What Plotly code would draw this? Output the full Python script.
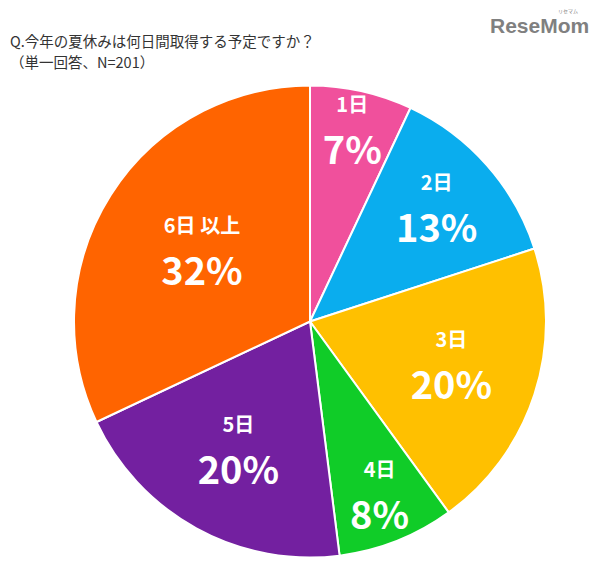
import plotly.graph_objects as go

categories = ["1日", "2日", "3日", "4日", "5日", "6日 以上"]
percent = [7, 13, 20, 8, 20, 32]
colors = ["#F0509C", "#0AADEE", "#FFC000", "#10CC28", "#7320A0", "#FF6400"]

title_line1 = "Q.今年の夏休みは何日間取得する予定ですか？"
title_line2 = "（単一回答、N=201）"

texts = [f"<span style='font-size:20px'><b>{c}</b></span><br><span style='font-size:38px'><b>{p}%</b></span>"
         for c, p in zip(categories, percent)]

# page body has an 8px margin, so figure coords are offset by 8px
OFF = 8
W, H = 605, 573
cx, cy, r = 310 - OFF, 321.5 - OFF, 236

fig = go.Figure(go.Pie(
    labels=categories,
    values=percent,
    text=texts,
    textinfo="text",
    textposition="inside",
    insidetextorientation="horizontal",
    sort=False,
    direction="clockwise",
    rotation=0,
    marker=dict(colors=colors, line=dict(color="white", width=2)),
    textfont=dict(family="Noto Sans CJK JP", color="white", size=40),
    hoverinfo="label+percent",
    domain=dict(x=[(cx - r) / W, (cx + r) / W], y=[(H - cy - r) / H, (H - cy + r) / H]),
    showlegend=False,
))

fig.update_layout(
    width=W, height=H,
    margin=dict(l=0, r=0, t=0, b=0),
    paper_bgcolor="white",
    uniformtext=dict(minsize=40, mode="show"),
    font=dict(family="Noto Sans CJK JP"),
    annotations=[
        dict(text=title_line1, x=0, y=1 - (40 - OFF) / H, xref="paper", yref="paper",
             xanchor="left", yanchor="middle", showarrow=False,
             font=dict(size=14.5, color="#333333", family="Noto Sans CJK JP")),
        dict(text=title_line2, x=0, y=1 - (62 - OFF) / H, xref="paper", yref="paper",
             xanchor="left", yanchor="middle", showarrow=False,
             font=dict(size=14.5, color="#333333", family="Noto Sans CJK JP")),
        dict(text="<b>ReseMom</b>", x=(591 - OFF) / W, y=1 - (25 - OFF) / H, xref="paper", yref="paper",
             xanchor="right", yanchor="middle", showarrow=False,
             font=dict(size=21, color="#808080", family="Liberation Sans Narrow, Liberation Sans")),
        dict(text="リセマム", x=(580 - OFF) / W, y=1 - (11 - OFF) / H, xref="paper", yref="paper",
             xanchor="right", yanchor="middle", showarrow=False,
             font=dict(size=5, color="#808080", family="Noto Sans CJK JP")),
    ],
)

fig.write_html("out.html")
